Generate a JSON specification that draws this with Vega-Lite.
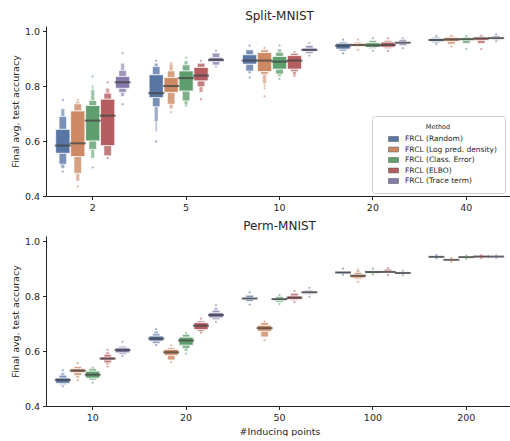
{
"$schema": "https://vega.github.io/schema/vega-lite/v6.json",
"padding": {"top": 10, "left": 10, "right": 0, "bottom": 0},
"config": {
  "font": "DejaVu Sans",
  "view": {"stroke": null},
  "axis": {"grid": false, "domainColor": "#262626", "tickColor": "#262626", "labelColor": "#262626", "titleColor": "#262626", "labelFontSize": 9.5, "titleFontSize": 9.5, "titleFontWeight": "normal", "tickSize": 3.5, "labelPadding": 3, "domainWidth": 1, "tickWidth": 1},
  "title": {"fontSize": 12, "fontWeight": "normal", "color": "#262626", "offset": 3}
},
"datasets": {
"d": [
{"p":"S","n":"2","m":"FRCL (Random)","med":0.584,"q1":0.556,"q3":0.643,"a2":0.516,"b2":0.690,"a3":0.501,"b3":0.718,"lo":0.489,"hi":0.750},
{"p":"S","n":"2","m":"FRCL (Log pred. density)","med":0.592,"q1":0.544,"q3":0.710,"a2":0.483,"b2":0.736,"a3":0.455,"b3":0.745,"lo":0.434,"hi":0.750},
{"p":"S","n":"2","m":"FRCL (Class. Error)","med":0.675,"q1":0.601,"q3":0.730,"a2":0.570,"b2":0.748,"a3":0.538,"b3":0.787,"b4":0.805,"lo":0.504,"hi":0.836},
{"p":"S","n":"2","m":"FRCL (ELBO)","med":0.693,"q1":0.584,"q3":0.753,"a2":0.547,"b2":0.775,"b3":0.793,"lo":0.538,"hi":0.814},
{"p":"S","n":"2","m":"FRCL (Trace term)","med":0.815,"q1":0.793,"q3":0.836,"a2":0.778,"b2":0.858,"a3":0.763,"b3":0.884,"lo":0.735,"hi":0.921},
{"p":"S","n":"5","m":"FRCL (Random)","med":0.775,"q1":0.759,"q3":0.842,"a2":0.726,"b2":0.872,"a3":0.672,"b3":0.884,"a4":0.635,"lo":0.599,"hi":0.893},
{"p":"S","n":"5","m":"FRCL (Log pred. density)","med":0.801,"q1":0.778,"q3":0.832,"a2":0.735,"b2":0.856,"a3":0.718,"b3":0.881,"lo":0.706,"hi":0.885},
{"p":"S","n":"5","m":"FRCL (Class. Error)","med":0.830,"q1":0.783,"q3":0.856,"a2":0.747,"b2":0.878,"a3":0.733,"b3":0.893,"lo":0.729,"hi":0.905},
{"p":"S","n":"5","m":"FRCL (ELBO)","med":0.839,"q1":0.820,"q3":0.869,"a2":0.799,"b2":0.884,"a3":0.778,"lo":0.753,"hi":0.893},
{"p":"S","n":"5","m":"FRCL (Trace term)","med":0.896,"q1":0.890,"q3":0.905,"a2":0.878,"b2":0.921,"lo":0.872,"hi":0.930},
{"p":"S","n":"10","m":"FRCL (Random)","med":0.894,"q1":0.881,"q3":0.915,"a2":0.856,"b2":0.933,"a3":0.848,"lo":0.832,"hi":0.948},
{"p":"S","n":"10","m":"FRCL (Log pred. density)","med":0.894,"q1":0.854,"q3":0.923,"a2":0.844,"b2":0.933,"a3":0.811,"a4":0.787,"lo":0.763,"hi":0.940},
{"p":"S","n":"10","m":"FRCL (Class. Error)","med":0.890,"q1":0.863,"q3":0.909,"a2":0.845,"b2":0.924,"a3":0.836,"b3":0.936,"lo":0.827,"hi":0.949},
{"p":"S","n":"10","m":"FRCL (ELBO)","med":0.894,"q1":0.863,"q3":0.912,"a2":0.854,"b2":0.920,"a3":0.842,"lo":0.838,"hi":0.925},
{"p":"S","n":"10","m":"FRCL (Trace term)","med":0.933,"q1":0.927,"q3":0.939,"a2":0.920,"b2":0.949,"lo":0.912,"hi":0.958},
{"p":"S","n":"20","m":"FRCL (Random)","med":0.948,"q1":0.936,"q3":0.957,"a2":0.929,"b2":0.962,"lo":0.920,"hi":0.970},
{"p":"S","n":"20","m":"FRCL (Log pred. density)","med":0.951,"q1":0.946,"q3":0.956,"a2":0.943,"b2":0.961,"lo":0.933,"hi":0.970},
{"p":"S","n":"20","m":"FRCL (Class. Error)","med":0.949,"q1":0.943,"q3":0.959,"a2":0.938,"b2":0.967,"lo":0.929,"hi":0.975},
{"p":"S","n":"20","m":"FRCL (ELBO)","med":0.951,"q1":0.943,"q3":0.961,"a2":0.938,"b2":0.967,"lo":0.929,"hi":0.975},
{"p":"S","n":"20","m":"FRCL (Trace term)","med":0.959,"q1":0.956,"q3":0.962,"a2":0.949,"b2":0.970,"lo":0.939,"hi":0.975},
{"p":"S","n":"40","m":"FRCL (Random)","med":0.969,"q1":0.964,"q3":0.974,"a2":0.959,"b2":0.979,"lo":0.954,"hi":0.984},
{"p":"S","n":"40","m":"FRCL (Log pred. density)","med":0.971,"q1":0.964,"q3":0.978,"a2":0.954,"b2":0.982,"lo":0.945,"hi":0.985},
{"p":"S","n":"40","m":"FRCL (Class. Error)","med":0.972,"q1":0.968,"q3":0.976,"a2":0.957,"b2":0.980,"lo":0.936,"hi":0.984},
{"p":"S","n":"40","m":"FRCL (ELBO)","med":0.975,"q1":0.968,"q3":0.978,"a2":0.957,"b2":0.982,"lo":0.936,"hi":0.985},
{"p":"S","n":"40","m":"FRCL (Trace term)","med":0.976,"q1":0.972,"q3":0.978,"a2":0.968,"b2":0.984,"lo":0.964,"hi":0.990},
{"p":"P","n":"10","m":"FRCL (Random)","med":0.495,"q1":0.483,"q3":0.502,"a2":0.478,"b2":0.512,"b3":0.521,"lo":0.472,"hi":0.530},
{"p":"P","n":"10","m":"FRCL (Log pred. density)","med":0.529,"q1":0.522,"q3":0.536,"a2":0.512,"b2":0.544,"a3":0.502,"lo":0.494,"hi":0.556},
{"p":"P","n":"10","m":"FRCL (Class. Error)","med":0.514,"q1":0.502,"q3":0.527,"a2":0.495,"b2":0.536,"lo":0.485,"hi":0.540},
{"p":"P","n":"10","m":"FRCL (ELBO)","med":0.573,"q1":0.568,"q3":0.578,"a2":0.558,"b2":0.588,"a3":0.551,"b3":0.597,"lo":0.544,"hi":0.605},
{"p":"P","n":"10","m":"FRCL (Trace term)","med":0.604,"q1":0.594,"q3":0.612,"a2":0.588,"b2":0.618,"lo":0.582,"hi":0.634},
{"p":"P","n":"20","m":"FRCL (Random)","med":0.646,"q1":0.637,"q3":0.655,"a2":0.629,"b2":0.663,"b3":0.673,"lo":0.622,"hi":0.680},
{"p":"P","n":"20","m":"FRCL (Log pred. density)","med":0.596,"q1":0.585,"q3":0.606,"a2":0.568,"b2":0.612,"lo":0.560,"hi":0.621},
{"p":"P","n":"20","m":"FRCL (Class. Error)","med":0.639,"q1":0.622,"q3":0.651,"a2":0.610,"b2":0.661,"a3":0.600,"lo":0.591,"hi":0.666},
{"p":"P","n":"20","m":"FRCL (ELBO)","med":0.693,"q1":0.679,"q3":0.704,"a2":0.673,"b2":0.710,"lo":0.668,"hi":0.719},
{"p":"P","n":"20","m":"FRCL (Trace term)","med":0.732,"q1":0.722,"q3":0.740,"a2":0.715,"b2":0.749,"b3":0.759,"lo":0.707,"hi":0.768},
{"p":"P","n":"50","m":"FRCL (Random)","med":0.792,"q1":0.789,"q3":0.795,"a2":0.782,"b2":0.804,"lo":0.770,"hi":0.814},
{"p":"P","n":"50","m":"FRCL (Log pred. density)","med":0.684,"q1":0.673,"q3":0.694,"a2":0.652,"b2":0.704,"lo":0.640,"hi":0.708},
{"p":"P","n":"50","m":"FRCL (Class. Error)","med":0.790,"q1":0.785,"q3":0.792,"a2":0.779,"b2":0.799,"lo":0.772,"hi":0.805},
{"p":"P","n":"50","m":"FRCL (ELBO)","med":0.795,"q1":0.789,"q3":0.801,"a2":0.785,"b2":0.811,"lo":0.779,"hi":0.820},
{"p":"P","n":"50","m":"FRCL (Trace term)","med":0.815,"q1":0.811,"q3":0.818,"a2":0.808,"b2":0.822,"lo":0.798,"hi":0.831},
{"p":"P","n":"100","m":"FRCL (Random)","med":0.887,"q1":0.883,"q3":0.890,"lo":0.879,"hi":0.901},
{"p":"P","n":"100","m":"FRCL (Log pred. density)","med":0.875,"q1":0.867,"q3":0.879,"a2":0.862,"b2":0.887,"b3":0.894,"lo":0.853,"hi":0.897},
{"p":"P","n":"100","m":"FRCL (Class. Error)","med":0.889,"q1":0.884,"q3":0.892,"lo":0.880,"hi":0.901},
{"p":"P","n":"100","m":"FRCL (ELBO)","med":0.889,"q1":0.886,"q3":0.892,"b2":0.899,"lo":0.878,"hi":0.903},
{"p":"P","n":"100","m":"FRCL (Trace term)","med":0.885,"q1":0.882,"q3":0.888,"lo":0.877,"hi":0.893},
{"p":"P","n":"200","m":"FRCL (Random)","med":0.944,"q1":0.941,"q3":0.947,"lo":0.938,"hi":0.950},
{"p":"P","n":"200","m":"FRCL (Log pred. density)","med":0.933,"q1":0.930,"q3":0.936,"lo":0.926,"hi":0.940},
{"p":"P","n":"200","m":"FRCL (Class. Error)","med":0.943,"q1":0.940,"q3":0.946,"lo":0.937,"hi":0.948},
{"p":"P","n":"200","m":"FRCL (ELBO)","med":0.945,"q1":0.942,"q3":0.948,"lo":0.939,"hi":0.950},
{"p":"P","n":"200","m":"FRCL (Trace term)","med":0.945,"q1":0.942,"q3":0.947,"lo":0.939,"hi":0.949}
]
},
"resolve": {"scale": {"x": "independent"}},
"spacing": 8,
"vconcat": [
{
  "width": 467, "height": 170,
  "title": {"text": "Split-MNIST"},
  "data": {"name": "d"},
  "transform": [{"filter": "datum.p == 'S'"}],
  "encoding": {
    "x": {"field": "n", "type": "ordinal", "sort": ["2","5","10","20","40"], "scale": {"paddingInner": 0.2, "paddingOuter": 0.1}, "axis": {"title": null, "labelAngle": 0}},
    "xOffset": {"field": "m", "type": "nominal", "sort": ["FRCL (Random)","FRCL (Log pred. density)","FRCL (Class. Error)","FRCL (ELBO)","FRCL (Trace term)"], "scale": {"paddingInner": 0, "paddingOuter": 0}},
    "color": {"field": "m", "type": "nominal", "scale": {"domain": ["FRCL (Random)","FRCL (Log pred. density)","FRCL (Class. Error)","FRCL (ELBO)","FRCL (Trace term)"], "range": ["#5975a4","#cc8963","#5f9e6e","#b55d60","#857aab"]},
      "legend": {"title": "Method", "orient": "none", "legendX": 326, "legendY": 90, "direction": "vertical", "padding": 8, "strokeColor": "#cccccc", "fillColor": "white", "cornerRadius": 3, "titleFontSize": 6.5, "titleFontWeight": "normal", "titleAnchor": "middle", "titleColor": "#262626", "labelFontSize": 7.5, "labelColor": "#262626", "symbolType": "M-1,-0.5H1V0.5H-1Z", "symbolSize": 100, "symbolOffset": 8, "symbolOpacity": 1, "symbolStrokeColor": "#555555", "symbolStrokeWidth": 0.5, "rowPadding": 1.5, "labelOffset": 6, "titlePadding": 3}}
  },
  "layer": [
    {"transform": [{"filter": "isValid(datum.a4)"}], "mark": {"type": "bar", "align": "center", "width": {"band": 0.12}, "opacity": 0.4}, "encoding": {"y": {"field": "a4", "type": "quantitative", "scale": {"domain": [0.4, 1.02], "nice": false, "zero": false}, "axis": {"title": "Final avg. test accuracy", "values": [0.4,0.5,0.6,0.7,0.8,0.9,1.0], "format": ".1f"}}, "y2": {"field": "a3"}}},
    {"transform": [{"filter": "isValid(datum.b4)"}], "mark": {"type": "bar", "align": "center", "width": {"band": 0.12}, "opacity": 0.4}, "encoding": {"y": {"field": "b3", "type": "quantitative"}, "y2": {"field": "b4"}}},
    {"transform": [{"filter": "isValid(datum.a3)"}], "mark": {"type": "bar", "align": "center", "width": {"band": 0.25}, "opacity": 0.6, "stroke": "white", "strokeWidth": 0.5}, "encoding": {"y": {"field": "a3", "type": "quantitative"}, "y2": {"field": "a2"}}},
    {"transform": [{"filter": "isValid(datum.b3)"}], "mark": {"type": "bar", "align": "center", "width": {"band": 0.25}, "opacity": 0.6, "stroke": "white", "strokeWidth": 0.5}, "encoding": {"y": {"field": "b2", "type": "quantitative"}, "y2": {"field": "b3"}}},
    {"transform": [{"filter": "isValid(datum.a2)"}], "mark": {"type": "bar", "align": "center", "width": {"band": 0.5}, "opacity": 0.8, "stroke": "white", "strokeWidth": 0.6}, "encoding": {"y": {"field": "a2", "type": "quantitative"}, "y2": {"field": "q1"}}},
    {"transform": [{"filter": "isValid(datum.b2)"}], "mark": {"type": "bar", "align": "center", "width": {"band": 0.5}, "opacity": 0.8, "stroke": "white", "strokeWidth": 0.6}, "encoding": {"y": {"field": "q3", "type": "quantitative"}, "y2": {"field": "b2"}}},
    {"mark": {"type": "bar", "align": "center", "width": {"band": 0.95}, "opacity": 1, "stroke": "white", "strokeWidth": 0.7}, "encoding": {"y": {"field": "q1", "type": "quantitative"}, "y2": {"field": "q3"}}},
    {"mark": {"type": "tick", "size": 16, "thickness": 2, "opacity": 0.75}, "encoding": {"y": {"field": "med", "type": "quantitative"}, "color": {"value": "#444444"}}},
    {"mark": {"type": "point", "filled": true, "size": 5, "opacity": 0.6}, "encoding": {"y": {"field": "lo", "type": "quantitative"}}},
    {"mark": {"type": "point", "filled": true, "size": 5, "opacity": 0.6}, "encoding": {"y": {"field": "hi", "type": "quantitative"}}}
  ]
},
{
  "width": 467, "height": 170,
  "title": {"text": "Perm-MNIST"},
  "data": {"name": "d"},
  "transform": [{"filter": "datum.p == 'P'"}],
  "encoding": {
    "x": {"field": "n", "type": "ordinal", "sort": ["10","20","50","100","200"], "scale": {"paddingInner": 0.2, "paddingOuter": 0.1}, "axis": {"title": "#Inducing points", "labelAngle": 0, "titlePadding": 4}},
    "xOffset": {"field": "m", "type": "nominal", "sort": ["FRCL (Random)","FRCL (Log pred. density)","FRCL (Class. Error)","FRCL (ELBO)","FRCL (Trace term)"], "scale": {"paddingInner": 0, "paddingOuter": 0}},
    "color": {"field": "m", "type": "nominal", "legend": null}
  },
  "layer": [
    {"transform": [{"filter": "isValid(datum.a3)"}], "mark": {"type": "bar", "align": "center", "width": {"band": 0.25}, "opacity": 0.6, "stroke": "white", "strokeWidth": 0.5}, "encoding": {"y": {"field": "a3", "type": "quantitative", "scale": {"domain": [0.4, 1.02], "nice": false, "zero": false}, "axis": {"title": "Final avg. test accuracy", "values": [0.4,0.5,0.6,0.7,0.8,0.9,1.0], "format": ".1f"}}, "y2": {"field": "a2"}}},
    {"transform": [{"filter": "isValid(datum.b3)"}], "mark": {"type": "bar", "align": "center", "width": {"band": 0.25}, "opacity": 0.6, "stroke": "white", "strokeWidth": 0.5}, "encoding": {"y": {"field": "b2", "type": "quantitative"}, "y2": {"field": "b3"}}},
    {"transform": [{"filter": "isValid(datum.a2)"}], "mark": {"type": "bar", "align": "center", "width": {"band": 0.5}, "opacity": 0.8, "stroke": "white", "strokeWidth": 0.6}, "encoding": {"y": {"field": "a2", "type": "quantitative"}, "y2": {"field": "q1"}}},
    {"transform": [{"filter": "isValid(datum.b2)"}], "mark": {"type": "bar", "align": "center", "width": {"band": 0.5}, "opacity": 0.8, "stroke": "white", "strokeWidth": 0.6}, "encoding": {"y": {"field": "q3", "type": "quantitative"}, "y2": {"field": "b2"}}},
    {"mark": {"type": "bar", "align": "center", "width": {"band": 0.95}, "opacity": 1, "stroke": "white", "strokeWidth": 0.7}, "encoding": {"y": {"field": "q1", "type": "quantitative"}, "y2": {"field": "q3"}}},
    {"mark": {"type": "tick", "size": 16, "thickness": 2, "opacity": 0.75}, "encoding": {"y": {"field": "med", "type": "quantitative"}, "color": {"value": "#444444"}}},
    {"mark": {"type": "point", "filled": true, "size": 5, "opacity": 0.6}, "encoding": {"y": {"field": "lo", "type": "quantitative"}}},
    {"mark": {"type": "point", "filled": true, "size": 5, "opacity": 0.6}, "encoding": {"y": {"field": "hi", "type": "quantitative"}}}
  ]
}
]
}
